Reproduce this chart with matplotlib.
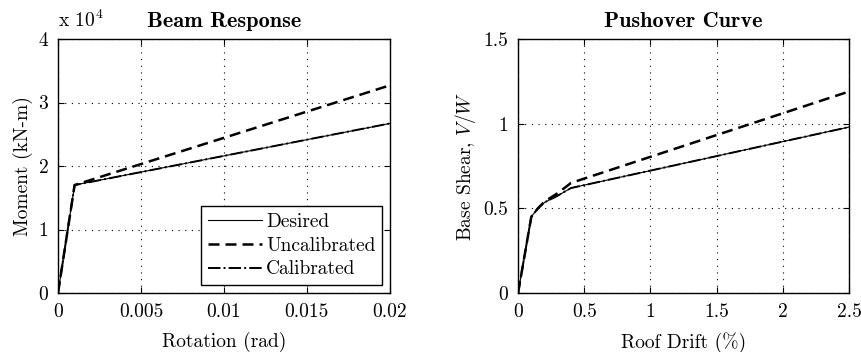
import numpy as np
import matplotlib
matplotlib.use("Agg")
import matplotlib.pyplot as plt
from matplotlib.ticker import FuncFormatter

plt.rcParams["font.family"] = ["cmr10", "DejaVu Serif"]
plt.rcParams["mathtext.fontset"] = "cm"
plt.rcParams["axes.formatter.use_mathtext"] = True

# Beam response (rotation in rad, moment in kN-m)
beam_rot = [0.0, 0.001, 0.02]
beam_desired = [0.0, 17000.0, 26700.0]
beam_uncal = [0.0, 17000.0, 32700.0]
beam_cal = [0.0, 17000.0, 26700.0]

# Pushover curve (roof drift in %, base shear ratio V/W)
push_drift = [0.0, 0.1, 0.15, 0.2, 0.3, 0.4, 2.5]
push_desired = [0.0, 0.45, 0.50, 0.535, 0.575, 0.62, 0.98]
push_uncal = [0.0, 0.45, 0.50, 0.54, 0.59, 0.65, 1.19]
push_cal = [0.0, 0.45, 0.50, 0.535, 0.575, 0.62, 0.98]

labels = ["Desired", "Uncalibrated", "Calibrated"]

FS = 14
DASH = (4.4, 2.4)

fig = plt.figure(figsize=(8.62, 3.52), dpi=100)
ax1 = fig.add_axes([0.0673, 0.1676, 0.385, 0.7216])
ax2 = fig.add_axes([0.601, 0.1676, 0.384, 0.7216])


def style(ax):
    ax.grid(True, linestyle=(0, (1, 5)), color="black", linewidth=0.8)
    ax.tick_params(direction="in", top=True, right=True, labelsize=FS,
                   length=4, width=0.8, pad=7)
    for s in ax.spines.values():
        s.set_linewidth(1.0)


# left panel
ax1.plot(beam_rot, beam_desired, "-", color="black", lw=0.8, label=labels[0])
ax1.plot(beam_rot, beam_uncal, "--", color="black", lw=1.8, dashes=DASH, label=labels[1])
ax1.plot(beam_rot, beam_cal, "-.", color="black", lw=1.4, label=labels[2])
ax1.set_xlim(0, 0.02)
ax1.set_ylim(0, 40000)
ax1.set_xticks([0, 0.005, 0.01, 0.015, 0.02])
ax1.set_xticklabels(["0", "0.005", "0.01", "0.015", "0.02"])
ax1.set_yticks([0, 10000, 20000, 30000, 40000])
ax1.yaxis.set_major_formatter(FuncFormatter(lambda v, p: f"{v / 1e4:g}"))
ax1.set_xlabel("Rotation (rad)", fontsize=FS, labelpad=8)
ax1.set_ylabel("Moment (kN-m)", fontsize=FS)
ax1.set_title("Beam Response", fontsize=16, fontname="cmb10", pad=9)
ax1.text(0.0, 1.03, "x 10$^4$", transform=ax1.transAxes, fontsize=14,
         ha="left", va="bottom")
style(ax1)
leg = ax1.legend(loc="lower right", fontsize=FS, frameon=True, fancybox=False,
                 edgecolor="black", framealpha=1, handlelength=2.8,
                 borderpad=0.35, labelspacing=0.3, handletextpad=0.2,
                 borderaxespad=0.4)
leg.get_frame().set_linewidth(1.0)

# right panel
ax2.plot(push_drift, push_desired, "-", color="black", lw=0.8)
ax2.plot(push_drift, push_uncal, "--", color="black", lw=1.8, dashes=DASH)
ax2.plot(push_drift, push_cal, "-.", color="black", lw=1.4)
ax2.set_xlim(0, 2.5)
ax2.set_ylim(0, 1.5)
ax2.set_xticks([0, 0.5, 1, 1.5, 2, 2.5])
ax2.set_xticklabels(["0", "0.5", "1", "1.5", "2", "2.5"])
ax2.set_yticks([0, 0.5, 1, 1.5])
ax2.set_yticklabels(["0", "0.5", "1", "1.5"])
ax2.set_xlabel("Roof Drift (%)", fontsize=FS, labelpad=8)
ax2.set_ylabel("Base Shear, $V/W$", fontsize=FS)
ax2.set_title("Pushover Curve", fontsize=16, fontname="cmb10", pad=9)
style(ax2)

fig.savefig("out.png", dpi=100)
